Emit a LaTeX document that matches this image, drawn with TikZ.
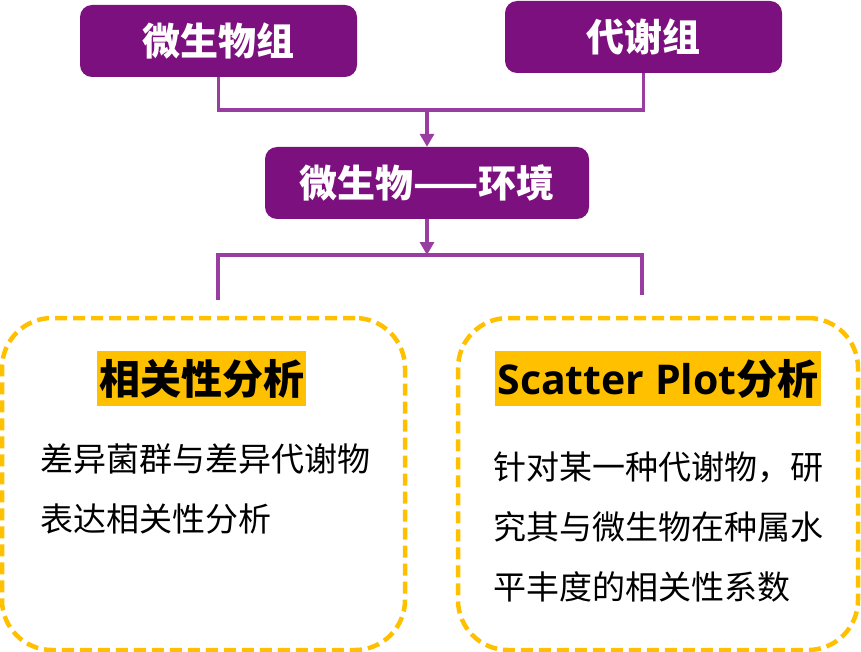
\documentclass[tikz,border=0pt]{standalone}
\usepackage{fontspec}
\newfontfamily\cjk{Noto Sans CJK SC}
\newfontfamily\latinb{Open Sans}
\usetikzlibrary{arrows.meta}
\definecolor{boxpurple}{HTML}{7D107F}
\definecolor{linepurple}{HTML}{9A3DA0}
\definecolor{gold}{HTML}{FFC000}
\tikzset{
  topbox/.style={fill=boxpurple, rounded corners=12pt, minimum height=72pt, inner sep=0pt,
    text=white, font=\cjk\bfseries\fontsize{38}{42}\selectfont},
  conn/.style={draw=linepurple, line width=3.2pt},
  arr/.style={conn, -{Triangle[length=13pt,width=14pt]}},
  dashbox/.style={draw=gold, line width=4.5pt, dash pattern=on 12pt off 6pt, rounded corners=50pt,
    minimum height=332pt, inner sep=0pt},
  titlebox/.style={fill=gold, minimum height=55pt, inner sep=0pt, text=black,
    font=\cjk\bfseries\fontsize{41}{44}\selectfont},
  bodytext/.style={anchor=north west, inner sep=0pt, align=left, text=black,
    font=\cjk\fontsize{33}{60}\selectfont}
}
\begin{document}
\begin{tikzpicture}[x=1pt,y=-1pt]
\useasboundingbox (0,0) rectangle (861,652);
% top boxes
\node[topbox, minimum width=277pt] (b1) at (218.5,41) {微生物组};
\node[topbox, minimum width=277pt] (b2) at (643.5,37) {代谢组};
\node[topbox, minimum width=324pt] (b3) at (427,183) {微生物——环境};
% connectors
\coordinate (j1) at (427,110);
\draw[conn] (b1.south) |- (j1) -| (b2.south);
\draw[arr] (j1) -- (b3.north);
\coordinate (j2) at (427,255);
\coordinate (l1) at (218,300);
\coordinate (r1) at (642,295);
\draw[arr] (b3.south) -- (j2);
\draw[conn] (l1) |- (j2) -| (r1);
% dashed boxes
\node[dashbox, minimum width=403pt] (d1) at (203.5,484) {};
\node[dashbox, minimum width=400pt] (d2) at (658,484) {};
% titles
\node[titlebox, minimum width=209pt] (t1) at (201.5,378.5) {相关性分析};
\node[titlebox, minimum width=326pt] (t2) at (658,378.5) {{\latinb\bfseries Scatter Plot}分析};
% body texts
\node[bodytext] (x1) at (40,444) {差异菌群与差异代谢物\\表达相关性分析};
\node[bodytext] (x2) at (493,452) {针对某一种代谢物，研\\究其与微生物在种属水\\平丰度的相关性系数};
\end{tikzpicture}
\end{document}
